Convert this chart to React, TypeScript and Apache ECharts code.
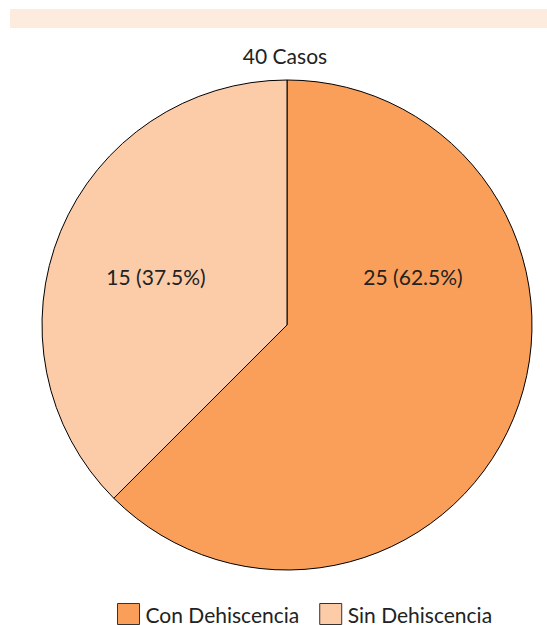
import React, { useEffect, useRef } from "react";
import * as echarts from "echarts";

const categories = ["Con Dehiscencia", "Sin Dehiscencia"];
const values = [25, 15];
const colors = ["#F99F5A", "#FCCBA8"];
const titleText = "40 Casos";

const FONT = "Lato, 'Open Sans', sans-serif";

export default function App() {
  const ref = useRef<HTMLDivElement>(null);
  useEffect(() => {
    document.body.style.margin = "0";
    const chart = echarts.init(ref.current!, null, { renderer: "svg" });
    const total = values.reduce((a, b) => a + b, 0);
    const labelPos = [
      [413, 276],
      [156, 276],
    ];
    chart.setOption({
      animation: false,
      backgroundColor: "#ffffff",
      title: {
        text: titleText,
        left: 285,
        top: 45,
        padding: 0,
        textAlign: "center",
        textStyle: { fontFamily: FONT, fontSize: 21, fontWeight: "normal", color: "#222" },
      },
      legend: {
        data: categories,
        left: 117,
        top: 603,
        padding: 0,
        itemWidth: 22,
        itemHeight: 21,
        itemGap: 20,
        icon: "rect",
        textStyle: { fontFamily: FONT, fontSize: 21, color: "#222", padding: [0, 0, 0, 1] },
        itemStyle: { borderColor: "#333", borderWidth: 1 },
      },
      graphic: [
        {
          type: "rect",
          shape: { x: 10, y: 9, width: 537, height: 19 },
          style: { fill: "#FDEBDD" },
          silent: true,
        },
        ...values.map((v, i) => ({
          type: "text",
          x: labelPos[i][0],
          y: labelPos[i][1],
          style: {
            text: `${v} (${((v / total) * 100).toFixed(1)}%)`,
            fontFamily: FONT,
            fontSize: 21,
            fill: "#222",
            align: "center",
            verticalAlign: "middle",
          },
          z: 100,
        })),
      ],
      series: [
        {
          type: "pie",
          center: [287, 325],
          radius: 245,
          startAngle: 90,
          clockwise: true,
          label: { show: false },
          labelLine: { show: false },
          emphasis: { disabled: true },
          itemStyle: { borderColor: "#000", borderWidth: 1 },
          data: categories.map((c, i) => ({
            name: c,
            value: values[i],
            itemStyle: { color: colors[i] },
          })),
        },
      ],
    });
    return () => chart.dispose();
  }, []);
  return <div ref={ref} style={{ width: 547, height: 625 }} />;
}
